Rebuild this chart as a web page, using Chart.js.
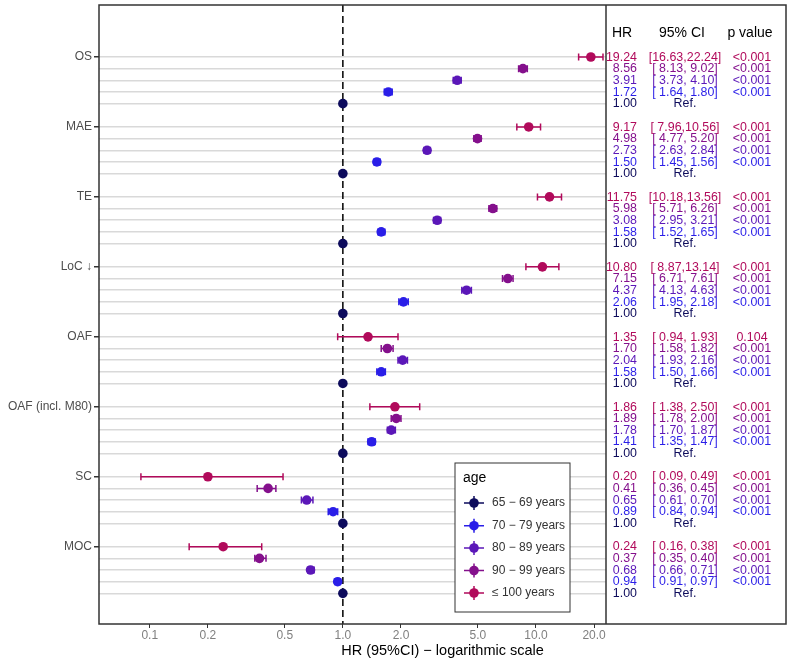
<!DOCTYPE html>
<html>
<head>
<meta charset="utf-8">
<script src="https://cdn.jsdelivr.net/npm/chart.js@4"></script>
<style>
  body { margin: 0; background: #fff; }
  #wrap { width: 794px; height: 661px; }
</style>
</head>
<body>
<div id="wrap"><canvas id="grafico" width="794" height="661"></canvas></div>
<script>
// desfechos (grupos do eixo y)
var outcomes = ['OS', 'MAE', 'TE', 'LoC \u2193', 'OAF', 'OAF (incl. M80)', 'SC', 'MOC'];
var ageLabels = ['65 \u2212 69 years', '70 \u2212 79 years', '80 \u2212 89 years', '90 \u2212 99 years', '\u2264 100 years'];
var ageColors = ['#0d0b5c', '#2a1ee8', '#5b17b8', '#84108c', '#b10a5b'];

// HR e IC 95% por faixa etaria (um valor por desfecho)
var hr65 = [1.00, 1.00, 1.00, 1.00, 1.00, 1.00, 1.00, 1.00];

var hr70 = [1.72, 1.50, 1.58, 2.06, 1.58, 1.41, 0.89, 0.94];
var lo70 = [1.64, 1.45, 1.52, 1.95, 1.50, 1.35, 0.84, 0.91];
var hi70 = [1.80, 1.56, 1.65, 2.18, 1.66, 1.47, 0.94, 0.97];

var hr80 = [3.91, 2.73, 3.08, 4.37, 2.04, 1.78, 0.65, 0.68];
var lo80 = [3.73, 2.63, 2.95, 4.13, 1.93, 1.70, 0.61, 0.66];
var hi80 = [4.10, 2.84, 3.21, 4.63, 2.16, 1.87, 0.70, 0.71];

var hr90 = [8.56, 4.98, 5.98, 7.15, 1.70, 1.89, 0.41, 0.37];
var lo90 = [8.13, 4.77, 5.71, 6.71, 1.58, 1.78, 0.36, 0.35];
var hi90 = [9.02, 5.20, 6.26, 7.61, 1.82, 2.00, 0.45, 0.40];

var hr100 = [19.24, 9.17, 11.75, 10.80, 1.35, 1.86, 0.20, 0.24];
var lo100 = [16.63, 7.96, 10.18, 8.87, 0.94, 1.38, 0.09, 0.16];
var hi100 = [22.24, 10.56, 13.56, 13.14, 1.93, 2.50, 0.49, 0.38];

var p100 = ['<0.001', '<0.001', '<0.001', '<0.001', '0.104', '<0.001', '<0.001', '<0.001'];

// ticks do eixo x (escala log)
var xTicks = [0.1, 0.2, 0.5, 1, 2, 5, 10, 20];

// linha de cada faixa dentro do grupo (<=100 em cima, ref embaixo)
var rowOf = [4, 3, 2, 1, 0];

var series = [
    { hr: hr65, lo: hr65, hi: hr65, p: null },
    { hr: hr70, lo: lo70, hi: hi70, p: null },
    { hr: hr80, lo: lo80, hi: hi80, p: null },
    { hr: hr90, lo: lo90, hi: hi90, p: null },
    { hr: hr100, lo: lo100, hi: hi100, p: p100 }
];

function pad(v) {
    var s = v.toFixed(2);
    return s.length < 5 ? ' ' + s : s;
}

var datasets = series.map(function (s, a) {
    return {
        label: ageLabels[a],
        data: s.hr.map(function (v, g) {
            return { x: v, y: g * 6 + rowOf[a], lo: s.lo[g], hi: s.hi[g] };
        }),
        backgroundColor: ageColors[a],
        borderWidth: 0,
        pointRadius: 4.8,
        pointHoverRadius: 4.8
    };
});

var rows = [];
outcomes.forEach(function (o, g) {
    for (var r = 0; r < 5; r++) rows.push(g * 6 + r);
});

var FONT = '"Liberation Sans", Arial, sans-serif';

// texto um pouco mais estreito, como no original
function narrowText(c, txt, x, y) {
    c.fillText(txt, x, y, c.measureText(txt).width * 0.92);
}

// barras de erro e linha tracejada em HR = 1
var errorBars = {
    id: 'errorBars',
    beforeDatasetsDraw: function (chart) {
        var c = chart.ctx, xs = chart.scales.x, ys = chart.scales.y, area = chart.chartArea;
        c.save();
        var x1 = xs.getPixelForValue(1);
        c.strokeStyle = '#000';
        c.lineWidth = 1.5;
        c.setLineDash([7, 4]);
        c.beginPath();
        c.moveTo(x1, area.top);
        c.lineTo(x1, area.bottom);
        c.stroke();
        c.setLineDash([]);
        chart.data.datasets.forEach(function (ds) {
            c.strokeStyle = ds.backgroundColor;
            c.lineWidth = 1.5;
            ds.data.forEach(function (d) {
                var y = ys.getPixelForValue(d.y);
                var a = xs.getPixelForValue(d.lo), b = xs.getPixelForValue(d.hi);
                c.beginPath();
                c.moveTo(a, y); c.lineTo(b, y);
                c.moveTo(a, y - 3.5); c.lineTo(a, y + 3.5);
                c.moveTo(b, y - 3.5); c.lineTo(b, y + 3.5);
                c.stroke();
            });
        });
        c.restore();
    },
    afterDraw: function (chart) {
        var c = chart.ctx, ys = chart.scales.y, area = chart.chartArea;
        var right = 786;
        c.save();
        // moldura e divisoria
        c.strokeStyle = '#333';
        c.lineWidth = 1.5;
        c.strokeRect(area.left, area.top, right - area.left, area.bottom - area.top);
        c.beginPath();
        c.moveTo(area.right, area.top);
        c.lineTo(area.right, area.bottom);
        c.stroke();

        // tabela
        c.fillStyle = '#000';
        c.font = '14px ' + FONT;
        c.textBaseline = 'middle';
        c.textAlign = 'center';
        c.fillText('HR', 622, 33);
        c.fillText('95% CI', 682, 33);
        c.fillText('p value', 750, 33);
        c.font = '13.5px ' + FONT;
        series.forEach(function (s, a) {
            c.fillStyle = ageColors[a];
            s.hr.forEach(function (v, g) {
                var y = ys.getPixelForValue(g * 6 + rowOf[a]);
                c.textAlign = 'right';
                narrowText(c, v.toFixed(2), 637, y);
                c.textAlign = 'center';
                if (a === 0) {
                    narrowText(c, 'Ref.', 685, y);
                } else {
                    narrowText(c, '[' + pad(s.lo[g]) + ',' + pad(s.hi[g]) + ']', 685, y);
                    narrowText(c, s.p ? s.p[g] : '<0.001', 752, y);
                }
            });
        });

        // titulo do eixo x
        c.fillStyle = '#000';
        c.font = '14.5px ' + FONT;
        c.textAlign = 'center';
        c.fillText('HR (95%CI) \u2212 logarithmic scale', (area.left + right) / 2, 651);

        // legenda
        var lx = 455, ly = 463, lw = 115, lh = 149;
        c.fillStyle = '#fff';
        c.fillRect(lx, ly, lw, lh);
        c.strokeStyle = '#333';
        c.lineWidth = 1;
        c.strokeRect(lx, ly, lw, lh);
        c.fillStyle = '#000';
        c.textAlign = 'left';
        c.font = '14px ' + FONT;
        c.fillText('age', 463, 478);
        c.font = '12px ' + FONT;
        var itemY = [503, 525.7, 548, 570.5, 593];
        ageLabels.forEach(function (lab, a) {
            var y = itemY[a];
            c.strokeStyle = ageColors[a];
            c.lineWidth = 1.5;
            c.beginPath();
            c.moveTo(464, y); c.lineTo(484, y);
            c.moveTo(474, y - 7); c.lineTo(474, y + 7);
            c.stroke();
            c.fillStyle = ageColors[a];
            c.beginPath();
            c.arc(474, y, 4.8, 0, Math.PI * 2);
            c.fill();
            c.fillStyle = '#333';
            c.fillText(lab, 492, y);
        });
        c.restore();
    }
};

var ctx = document.querySelector('#grafico').getContext('2d');
var forestChart = new Chart(ctx, {
    type: 'scatter',
    data: { datasets: datasets },
    options: {
        responsive: false,
        animation: false,
        layout: { padding: { top: 5, right: 188, left: 0, bottom: 0 } },
        plugins: { legend: { display: false }, tooltip: { enabled: false } },
        scales: {
            x: {
                type: 'logarithmic',
                min: 0.0546,
                max: 23.05,
                afterBuildTicks: function (axis) {
                    axis.ticks = xTicks.map(function (v) { return { value: v }; });
                },
                afterFit: function (axis) {
                    axis.height = 37;
                    axis.paddingLeft = 0;
                    axis.paddingRight = 0;
                },
                grid: { display: true, drawOnChartArea: false, tickLength: 4, color: '#333', lineWidth: 1 },
                border: { display: false },
                ticks: {
                    autoSkip: false,
                    maxRotation: 0,
                    padding: 0,
                    color: '#7f7f7f',
                    font: { family: FONT, size: 12 },
                    callback: function (v) { return Number(v).toFixed(1); }
                }
            },
            y: {
                type: 'linear',
                reverse: true,
                min: -4.46,
                max: 48.63,
                afterBuildTicks: function (axis) {
                    axis.ticks = rows.map(function (v) { return { value: v }; });
                },
                afterFit: function (axis) {
                    axis.width = 99;
                    axis.paddingTop = 0;
                    axis.paddingBottom = 0;
                },
                grid: {
                    color: '#d9d9d9',
                    lineWidth: 1.5,
                    tickLength: 5,
                    tickColor: function (c) {
                        return c.tick && c.tick.value % 6 === 0 ? '#333' : 'rgba(0,0,0,0)';
                    }
                },
                border: { display: false },
                ticks: {
                    autoSkip: false,
                    padding: 2,
                    color: '#4d4d4d',
                    font: { family: FONT, size: 12 },
                    callback: function (v) {
                        return v % 6 === 0 ? outcomes[v / 6] : '';
                    }
                }
            }
        }
    },
    plugins: [errorBars]
});
</script>
</body>
</html>
